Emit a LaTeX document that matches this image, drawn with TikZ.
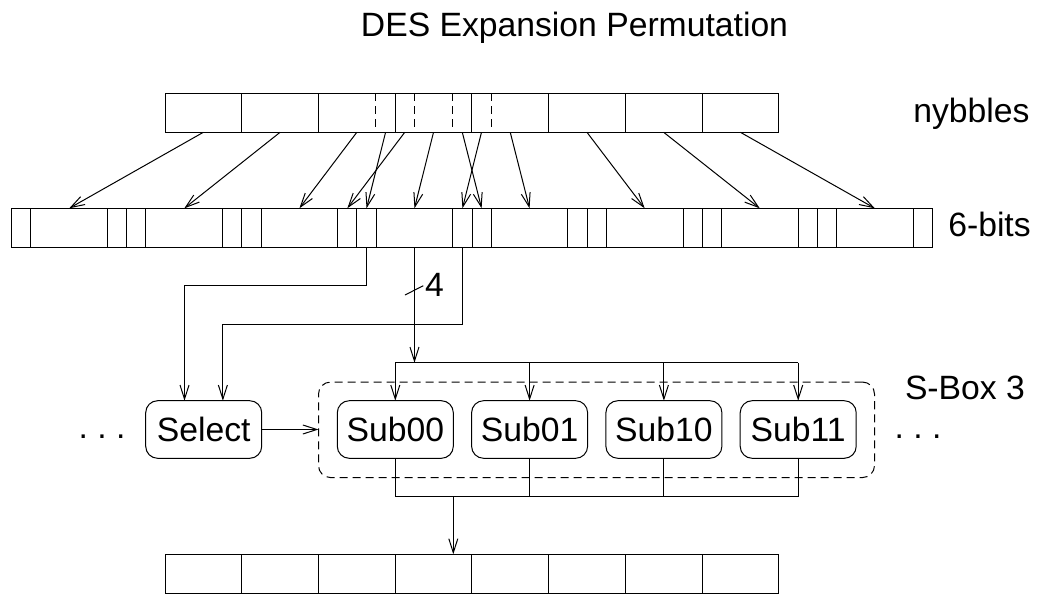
\documentclass[tikz,border=0pt]{standalone}
\usepackage{fontspec}
\setmainfont{Liberation Sans}
\usetikzlibrary{arrows.meta, positioning}
\frenchspacing

\begin{document}
\begin{tikzpicture}[
    x=1pt, y=-1pt,
    line width=1pt,
    node distance=18.3pt,
    font=\fontsize{33.7}{40}\selectfont,
    cell/.style={draw, inner sep=0pt, outer sep=0pt, minimum height=39pt},
    subbox/.style={draw, rounded corners=12pt, inner sep=0pt, outer sep=0pt,
                   minimum width=116pt, minimum height=57.6pt},
    lbl/.style={inner sep=0pt, outer sep=0pt},
    arr/.style={-{Straight Barb[length=14pt, width=9pt]}},
    divider/.style={dash pattern=on 8pt off 5pt}
  ]
  \def\bw{19.18}
  \useasboundingbox (0,0) rectangle (1040,594);

  \node[lbl, anchor=base] (title) at (574.5,36.7) {DES Expansion Permutation};

  % nybbles
  \foreach \i in {1,...,8}
    \node[cell, minimum width=4*\bw pt] (n\i) at ({165+(4*\i-2)*\bw},112.8) {};
  \foreach \i in {1,...,32}
    \coordinate (t\i) at ({165+(\i-0.5)*\bw},132.3);
  \foreach \k in {11,13,15,17}
    \draw[divider] ({165+\k*\bw},93.3) -- ++(0,39);
  \node[lbl, anchor=base west] (lnyb) at (913.3,122.7) {nybbles};

  % 6-bit groups
  \foreach \g in {1,...,8} {
    \pgfmathsetmacro\gx{11.7+6*(\g-1)*\bw}
    \node[cell, minimum width=\bw pt] (gL\g) at ({\gx+0.5*\bw},227.8) {};
    \node[cell, minimum width=4*\bw pt] (gM\g) at ({\gx+3*\bw},227.8) {};
    \node[cell, minimum width=\bw pt] (gR\g) at ({\gx+5.5*\bw},227.8) {};
  }
  \node[lbl, anchor=base west] (lsix) at (948.3,236.7) {6-bits};

  % expansion wiring
  \foreach \i in {1,...,8}
    \draw[arr] (n\i.south) -- (gM\i.north);
  \draw[arr] (t12) -- (gL4.north);
  \draw[arr] (t13) -- (gR3.north);
  \draw[arr] (t16) -- (gL5.north);
  \draw[arr] (t17) -- (gR4.north);

  % select + s-box
  \node[subbox] (sel) at (203.7,429.5) {Select};
  \node[subbox] (sub00) at (395.3,429.5) {Sub00};
  \node[subbox, right=of sub00] (sub01) {Sub01};
  \node[subbox, right=of sub01] (sub10) {Sub10};
  \node[subbox, right=of sub10] (sub11) {Sub11};
  \node[draw, dash pattern=on 8pt off 5pt, rounded corners=12pt, inner sep=0pt,
        outer sep=0pt, minimum width=556pt, minimum height=95.5pt] (sbox) at (596.5,429.8) {};
  \node[lbl, anchor=base west] (lsb) at (905,399.3) {S-Box 3};
  \node[lbl, anchor=base west] (dotsl) at (78.6,438.9) {. . .};
  \node[lbl, anchor=base west] (dotsr) at (894.6,438.9) {. . .};

  % select inputs
  \draw[arr] (gL4.south) -- ++(0,38.4) -| ([xshift=-\bw pt]sel.north);
  \draw[arr] (gR4.south) -- ++(0,76.7) -| ([xshift=\bw pt]sel.north);
  \draw[arr] (sel.east) -- (sel.east -| sbox.west);

  % input bus
  \coordinate (busin) at (0,362.7);
  \draw[arr] (gM4.south) -- (gM4.south |- busin);
  \draw ([shift={(-9.5,47.7)}]gM4.south) -- ++(18.3,-9.3);
  \node[lbl, anchor=base west] (wd) at (425,296.7) {4};
  \draw (sub00.north |- busin) -- (sub11.north |- busin);
  \foreach \s in {sub00,sub01,sub10,sub11}
    \draw[arr] (\s.north |- busin) -- (\s.north);

  % output bus
  \coordinate (busout) at (0,496.7);
  \foreach \s in {sub00,sub01,sub10,sub11}
    \draw (\s.south) -- (\s.south |- busout);
  \draw (sub00.south |- busout) -- (sub11.south |- busout);
  \coordinate (tap) at (sub00.east |- busout);
  \foreach \i in {1,...,8}
    \node[cell, minimum width=4*\bw pt] (o\i) at ({165+(4*\i-2)*\bw},573.8) {};
  \draw[arr] (tap) -- (tap |- o4.north);
\end{tikzpicture}
\end{document}
